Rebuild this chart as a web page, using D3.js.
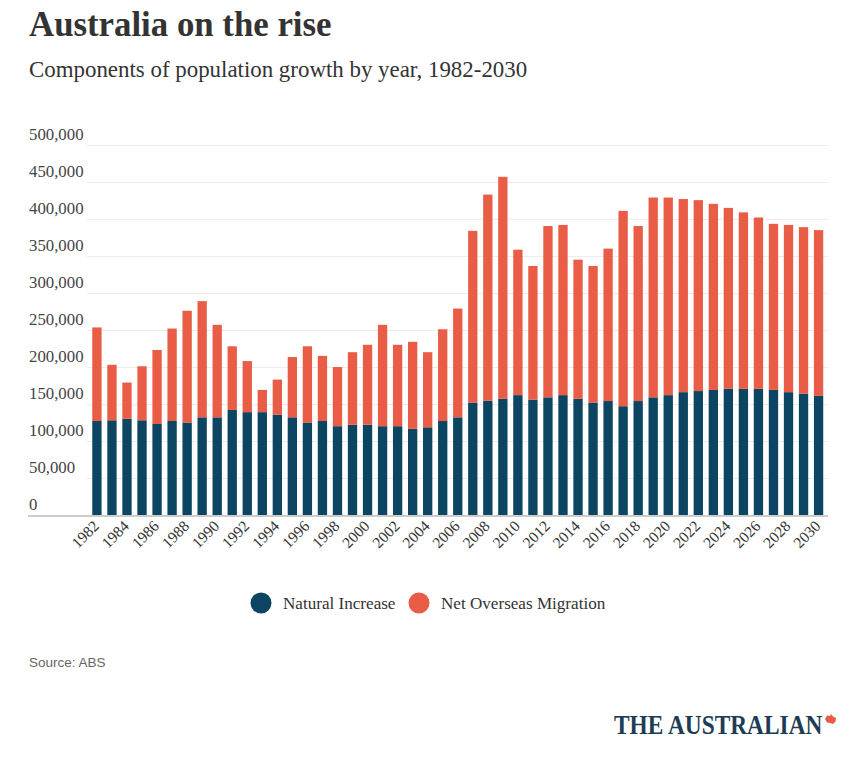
<!DOCTYPE html>
<html>
<head>
<meta charset="utf-8">
<script src="https://cdn.jsdelivr.net/npm/d3@7"></script>
<style>
  html, body { margin: 0; padding: 0; background: #ffffff; }
  svg { display: block; }
</style>
</head>
<body>
<div id="chart"></div>
<script>
// ---- Data ----
const years = [1982,1983,1984,1985,1986,1987,1988,1989,1990,1991,1992,1993,1994,1995,1996,1997,1998,1999,2000,2001,2002,2003,2004,2005,2006,2007,2008,2009,2010,2011,2012,2013,2014,2015,2016,2017,2018,2019,2020,2021,2022,2023,2024,2025,2026,2027,2028,2029,2030];
const naturalIncrease = [127000,128000,130000,128000,123000,127000,125000,132000,132000,142000,139000,139000,135500,132000,125000,127000,120000,122000,122000,120000,120000,116500,118500,127000,132000,152000,154500,157000,162000,156000,159000,162000,157000,152000,154000,147000,154000,159000,162000,166000,167500,169000,170500,170500,170500,169000,166000,164000,161000];
const netOverseasMigration = [126500,75000,49000,73000,100000,125000,151000,157000,125000,86000,69000,30000,47500,81500,103000,88000,80000,98000,108000,137000,110000,117500,101500,124000,147000,232000,278500,300000,196500,180500,231500,230000,188000,184500,206000,264000,236500,270000,267000,261000,258000,251500,244500,238500,231500,224500,226000,225000,224000];
const yTicks = [0,50000,100000,150000,200000,250000,300000,350000,400000,450000,500000];
const xTickYears = years.filter(y => (y - 1982) % 2 === 0);
const seriesNames = ["Natural Increase", "Net Overseas Migration"];
const seriesKeys = ["ni", "nom"];
const colors = ["#0b4561", "#e95d47"];

// ---- Layout ----
const W = 849, H = 758;
const svg = d3.select("#chart").append("svg").attr("width", W).attr("height", H);
svg.append("rect").attr("width", W).attr("height", H).attr("fill", "#ffffff");

const serif = "'Liberation Serif', 'Times New Roman', serif";
const sans = "'Liberation Sans', Arial, sans-serif";

// Title & subtitle
svg.append("text").attr("x", 29).attr("y", 36)
  .style("font-family", serif).style("font-weight", "700").style("font-size", "34.8px")
  .attr("fill", "#333").text("Australia on the rise");
svg.append("text").attr("x", 29).attr("y", 77)
  .style("font-family", serif).style("font-size", "22.9px")
  .attr("fill", "#333").text("Components of population growth by year, 1982-2030");

// Scales
const x = d3.scaleBand().domain(years).range([87, 828.5]).paddingInner(0.38).paddingOuter(0.35);
const y = d3.scaleLinear().domain([0, 500000]).range([515, 145]);

// Gridlines
svg.append("g").selectAll("line").data(yTicks.filter(t => t > 0)).join("line")
  .attr("x1", 87).attr("x2", 828)
  .attr("y1", d => Math.round(y(d)) + 0.5).attr("y2", d => Math.round(y(d)) + 0.5)
  .attr("stroke", "#ececec").attr("stroke-width", 1);

// Y labels
svg.append("g").selectAll("text").data(yTicks).join("text")
  .attr("x", 29).attr("y", d => y(d) - 5)
  .style("font-family", serif).style("font-size", "16.8px")
  .attr("fill", "#444")
  .text(d => d3.format(",")(d));

// Stacked data
const table = years.map((yr, i) => ({ year: yr, ni: naturalIncrease[i], nom: netOverseasMigration[i] }));
const stack = d3.stack().keys(seriesKeys)(table);

svg.append("g").selectAll("g").data(stack).join("g")
  .attr("fill", (d, i) => colors[i])
  .selectAll("rect").data(d => d).join("rect")
  .attr("x", d => x(d.data.year))
  .attr("width", x.bandwidth())
  .attr("y", d => y(d[1]))
  .attr("height", d => y(d[0]) - y(d[1]));

// Baseline
svg.append("line").attr("x1", 28).attr("x2", 828).attr("y1", 516).attr("y2", 516)
  .attr("stroke", "#cccccc").attr("stroke-width", 2);

// X labels
svg.append("g").selectAll("text").data(xTickYears).join("text")
  .attr("transform", d => `translate(${x(d) + x.bandwidth() / 2 + 3},${527}) rotate(-45)`)
  .attr("text-anchor", "end")
  .style("font-family", serif).style("font-size", "15.5px")
  .attr("fill", "#333")
  .text(d => d);

// Legend
const legendItems = [
  { name: seriesNames[0], color: colors[0], cx: 261, tx: 283 },
  { name: seriesNames[1], color: colors[1], cx: 419, tx: 441 }
];
const lg = svg.append("g");
lg.selectAll("circle").data(legendItems).join("circle")
  .attr("cx", d => d.cx).attr("cy", 603).attr("r", 10.5).attr("fill", d => d.color);
lg.selectAll("text").data(legendItems).join("text")
  .attr("x", d => d.tx).attr("y", 608.5)
  .style("font-family", serif).style("font-size", "17.1px")
  .attr("fill", "#333").text(d => d.name);

// Source
svg.append("text").attr("x", 29).attr("y", 667)
  .style("font-family", sans).style("font-size", "13.5px")
  .attr("fill", "#666").text("Source: ABS");

// Logo
svg.append("text").attr("transform", "translate(614,734) scale(0.85,1)")
  .style("font-family", serif).style("font-weight", "700").style("font-size", "27.5px")
  .attr("fill", "#1d3c55").text("THE AUSTRALIAN");
svg.append("path")
  .attr("d", "M825,719 L827,715.5 L830,716 L831,714 L833,716.5 L836,718 L835.5,721.5 L833,724 L830,723 L827,722.5 Z")
  .attr("fill", "#e95d47");
</script>
</body>
</html>
